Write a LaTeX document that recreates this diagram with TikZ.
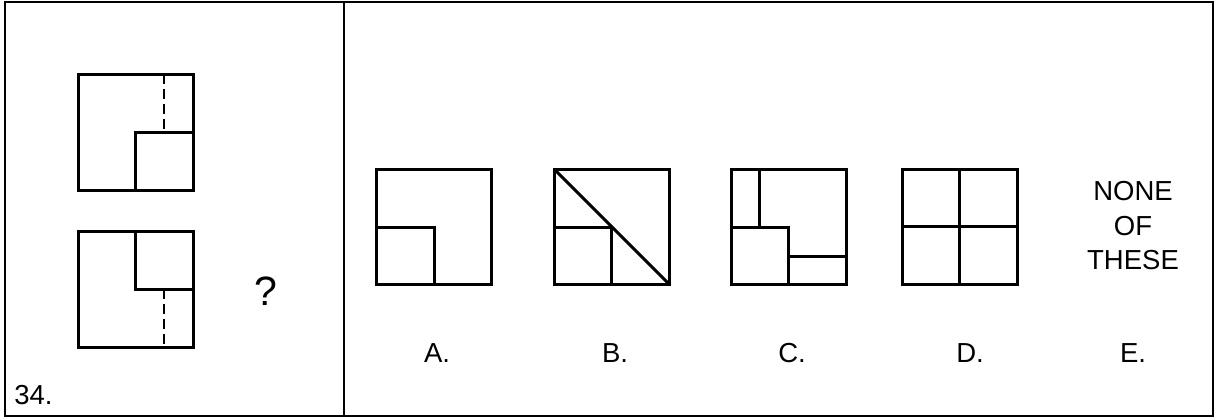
\documentclass[tikz,border=0pt]{standalone}
\usepackage{fontspec}
\setmainfont{Liberation Sans}
\usepackage{tikz}

\tikzset{
  fig/.style={line width=1.5pt},
  hid/.style={line width=1pt,dash pattern=on 5pt off 2.5pt},
  frm/.style={line width=1.2pt},
  lbl/.style={font=\fontsize{13.75}{17.25}\selectfont,inner sep=0pt}
}

\begin{document}
\begin{tikzpicture}[x=0.5pt,y=-0.5pt]
\useasboundingbox[fill=white] (0,0) rectangle (1216,419);
\draw[frm] (5,2) rectangle (1213,416);
\draw[frm] (344,2) -- (344,416);

\begin{scope}[shift={(78,74)}]
  \draw[fig] (0,0) rectangle (115,116);
  \draw[fig] (57,116) |- (115,58);
  \draw[hid] (86,0) -- (86,58);
\end{scope}
\begin{scope}[shift={(78,231)}]
  \draw[fig] (0,0) rectangle (115,116);
  \draw[fig] (57,0) |- (115,58);
  \draw[hid] (86,58) -- (86,116);
\end{scope}
\node[lbl,anchor=base,font=\fontsize{20.5}{24}\selectfont] (qmark) at (266,305) {?};
\node[lbl,anchor=base west] (num) at (14,404) {34.};

\begin{scope}[shift={(376,169)}]
  \draw[fig] (0,0) rectangle (115,115);
  \draw[fig] (0,58) -| (58,115);
\end{scope}
\begin{scope}[shift={(554,169)}]
  \draw[fig] (0,0) rectangle (115,115);
  \draw[fig] (0,0) -- (115,115);
  \draw[fig] (0,58) -| (57,115);
\end{scope}
\begin{scope}[shift={(731,169)}]
  \draw[fig] (0,0) rectangle (115,115);
  \draw[fig] (28,0) -- (28,58);
  \draw[fig] (0,58) -| (57,115);
  \draw[fig] (57,87) -- (115,87);
\end{scope}
\begin{scope}[shift={(902,169)}]
  \draw[fig] (0,0) rectangle (115,115);
  \draw[fig] (57.5,0) -- (57.5,115);
  \draw[fig] (0,57.5) -- (115,57.5);
\end{scope}
\node[lbl,align=center] (none) at (1133,226) {NONE\\OF\\THESE};

\node[lbl,anchor=base] (optA) at (437,362) {A.};
\node[lbl,anchor=base] (optB) at (615,362) {B.};
\node[lbl,anchor=base] (optC) at (792,362) {C.};
\node[lbl,anchor=base] (optD) at (970,362) {D.};
\node[lbl,anchor=base] (optE) at (1133,362) {E.};
\end{tikzpicture}
\end{document}
